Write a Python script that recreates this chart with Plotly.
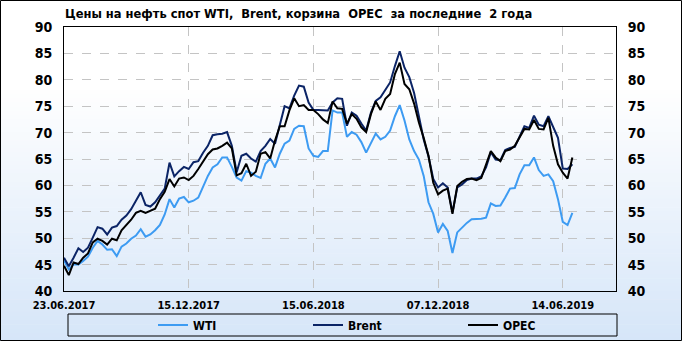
import plotly.graph_objects as go

# ---------------- data (weekly prices, USD/bbl) ----------------
tick_labels = ["23.06.2017", "15.12.2017", "15.06.2018", "07.12.2018", "14.06.2019"]
tick_positions = [0, 26, 52, 78, 104]

wti = [45.8, 44.1, 45.0, 45.0, 45.7, 46.5, 48.2, 49.5, 48.8, 47.8,
       47.9, 46.6, 48.4, 49.0, 49.9, 50.5, 51.7, 50.3, 50.7, 51.5,
       52.5, 54.5, 57.4, 55.8, 57.5, 57.8, 56.8, 57.1, 57.7, 59.8,
       61.8, 63.4, 64.0, 65.3, 65.3, 63.5, 61.5, 60.9, 62.7, 62.4,
       61.8, 61.4, 64.1, 65.1, 63.4, 66.0, 67.9, 68.5, 70.7, 71.3,
       71.2, 67.0, 65.6, 65.4, 66.5, 66.5, 74.2, 73.8, 73.8, 69.2,
       70.1, 69.6, 68.2, 66.2, 67.9, 69.8, 68.7, 69.2, 70.4, 73.1,
       75.2, 72.3, 68.7, 66.5, 64.9, 61.8, 56.8, 54.6, 51.1, 52.7,
       51.4, 47.2, 51.1, 52.1, 52.9, 53.6, 53.6, 53.7, 53.9, 56.6,
       56.1, 56.2, 57.7, 59.4, 59.5, 62.1, 63.8, 63.8, 65.3, 62.9,
       61.8, 62.1, 60.8, 57.4, 53.1, 52.5, 54.8]

brent = [46.3, 44.7, 46.3, 48.1, 47.4, 48.2, 50.1, 52.1, 51.8, 50.7,
         52.0, 52.3, 53.5, 54.3, 55.5, 57.0, 58.7, 56.3, 56.0, 56.8,
         58.0, 59.4, 64.3, 61.7, 62.7, 63.5, 63.1, 64.4, 64.6, 66.2,
         67.5, 69.5, 69.7, 69.8, 70.1, 67.5, 62.5, 65.6, 66.0, 65.1,
         64.5, 66.5, 67.5, 68.8, 67.9, 71.2, 75.0, 74.6, 77.0, 78.9,
         78.7, 75.7, 74.3, 74.3, 74.3, 74.2, 75.7, 76.5, 76.4, 71.3,
         73.8, 73.2, 71.7, 70.4, 73.8, 76.0, 76.7, 78.2, 79.5, 82.6,
         85.4, 82.3, 80.5, 77.5, 73.0, 68.7, 65.5, 61.2, 59.6, 60.4,
         59.6, 54.9, 59.6, 60.2, 61.0, 61.3, 61.3, 61.7, 63.4, 66.3,
         64.9, 64.8, 66.7, 67.1, 67.3, 69.3, 71.2, 70.9, 73.2, 71.5,
         71.2, 73.1, 70.9, 69.0, 63.2, 63.1, 64.0]

opec = [44.8, 43.0, 45.4, 45.1, 46.3, 47.1, 49.2, 49.9, 49.5, 48.8,
        49.9, 49.6, 51.5, 52.5, 53.5, 54.8, 55.2, 54.8, 55.2, 55.6,
        57.4, 58.8, 61.2, 59.8, 61.3, 61.5, 61.0, 61.8, 63.1, 64.6,
        65.9, 66.8, 67.0, 67.5, 68.1, 67.0, 61.9, 62.3, 64.1, 61.8,
        62.6, 66.0, 66.3, 65.1, 68.5, 71.2, 71.2, 74.2, 76.5, 75.0,
        75.2, 74.3, 74.3, 73.5, 72.5, 71.8, 75.9, 74.6, 74.5, 71.7,
        73.5, 72.6, 71.0, 70.1, 73.5, 75.9, 74.3, 76.4, 77.3, 81.1,
        83.25, 79.2, 78.2, 75.5, 71.9, 69.0, 65.6, 60.5, 58.3, 59.0,
        59.4, 54.6, 59.9, 60.7, 61.2, 61.3, 61.0, 61.4, 64.0, 66.5,
        65.3, 64.6, 66.5, 66.8, 67.5, 69.0, 70.7, 70.6, 72.4, 70.7,
        70.6, 72.8, 67.5, 64.0, 62.4, 61.3, 65.3]

series_names = ["WTI", "Brent", "OPEC"]
y_ticks = [40, 45, 50, 55, 60, 65, 70, 75, 80, 85, 90]
title_text = "Цены на нефть спот WTI,\u00a0 Brent, корзина\u00a0 OPEC\u00a0 за последние\u00a0 2 года"

# ---------------- layout geometry ----------------
W, H = 682, 341
ML, MR, MT, MB = 64, 66, 27, 50
PW, PH = W - ML - MR, H - MT - MB

def px_x(p):
    return (p - ML) / PW

def px_y(p):
    return (H - MB - p) / PH

FONT = "Liberation Sans Narrow, Arial Narrow, DejaVu Sans Condensed, sans-serif"
x_idx = list(range(len(wti)))

fig = go.Figure()
colors = ["#3d9bf2", "#0b2466", "#000000"]
for name, vals, col in zip(series_names, [wti, brent, opec], colors):
    fig.add_trace(go.Scatter(x=x_idx, y=vals, mode="lines", name=name,
                             line=dict(color=col, width=2)))
# invisible trace for right axis
fig.add_trace(go.Scatter(x=[0], y=[40], yaxis="y2", mode="markers",
                         marker=dict(opacity=0), showlegend=False, hoverinfo="skip"))

shapes = []
# gradient background bands
n = 60
y_start = 90
for k in range(n):
    p0 = y_start + (H - y_start) * k / n
    p1 = y_start + (H - y_start) * (k + 1) / n + 0.6
    t = (k + 0.5) / n
    r = int(255 - (255 - 214) * t)
    g = int(255 - (255 - 230) * t)
    b = int(255 - (255 - 249) * t)
    shapes.append(dict(type="rect", xref="paper", yref="paper", layer="below",
                       x0=px_x(0), x1=px_x(W), y0=px_y(p1), y1=px_y(p0),
                       line=dict(width=0), fillcolor=f"rgb({r},{g},{b})"))
# outer border
shapes.append(dict(type="rect", xref="paper", yref="paper", layer="above",
                   x0=px_x(0.5), x1=px_x(W - 0.5), y0=px_y(H - 0.5), y1=px_y(0.5),
                   line=dict(color="black", width=1)))
# legend box
shapes.append(dict(type="rect", xref="paper", yref="paper", layer="above",
                   x0=px_x(68), x1=px_x(617), y0=px_y(336), y1=px_y(314),
                   line=dict(color="black", width=1)))

axis_font = dict(family=FONT, size=14, color="black", weight="bold")

fig.update_layout(
    width=W, height=H,
    margin=dict(l=ML, r=MR, t=MT, b=MB, autoexpand=False),
    paper_bgcolor="white",
    plot_bgcolor="rgba(0,0,0,0)",
    shapes=shapes,
    title=dict(text=title_text, x=px_x(65), xref="paper", xanchor="left",
               y=1 - 14 / H, yanchor="middle",
               font=dict(family=FONT, size=12.8, color="black", weight="bold")),
    xaxis=dict(range=[0, 115.1], tickvals=tick_positions, ticktext=tick_labels,
               tickfont=dict(family=FONT, size=11, color="black", weight="bold"),
               showgrid=True, gridcolor="#c4c4c4", griddash="dash", gridwidth=1,
               zeroline=False, showline=True, linecolor="black", linewidth=1, mirror=True,
               ticks="outside", ticklen=4, tickcolor="rgba(0,0,0,0)"),
    yaxis=dict(range=[40, 90], tickvals=y_ticks, tickfont=axis_font,
               showgrid=True, gridcolor="#c4c4c4", griddash="dash", gridwidth=1,
               zeroline=False, showline=True, linecolor="black", linewidth=1, mirror=True,
               ticks="outside", ticklen=8, tickcolor="rgba(0,0,0,0)"),
    yaxis2=dict(range=[40, 90], tickvals=y_ticks, tickfont=axis_font, overlaying="y",
                side="right", showgrid=False, zeroline=False,
                ticks="outside", ticklen=8, tickcolor="rgba(0,0,0,0)"),
    legend=dict(orientation="h", x=px_x(153), xanchor="left", y=px_y(325), yanchor="middle",
                bgcolor="rgba(0,0,0,0)", entrywidth=110, entrywidthmode="pixels",
                font=dict(family=FONT, size=12, color="black", weight="bold"),
                tracegroupgap=0),
    showlegend=True,
)

fig.write_html("out.html")
